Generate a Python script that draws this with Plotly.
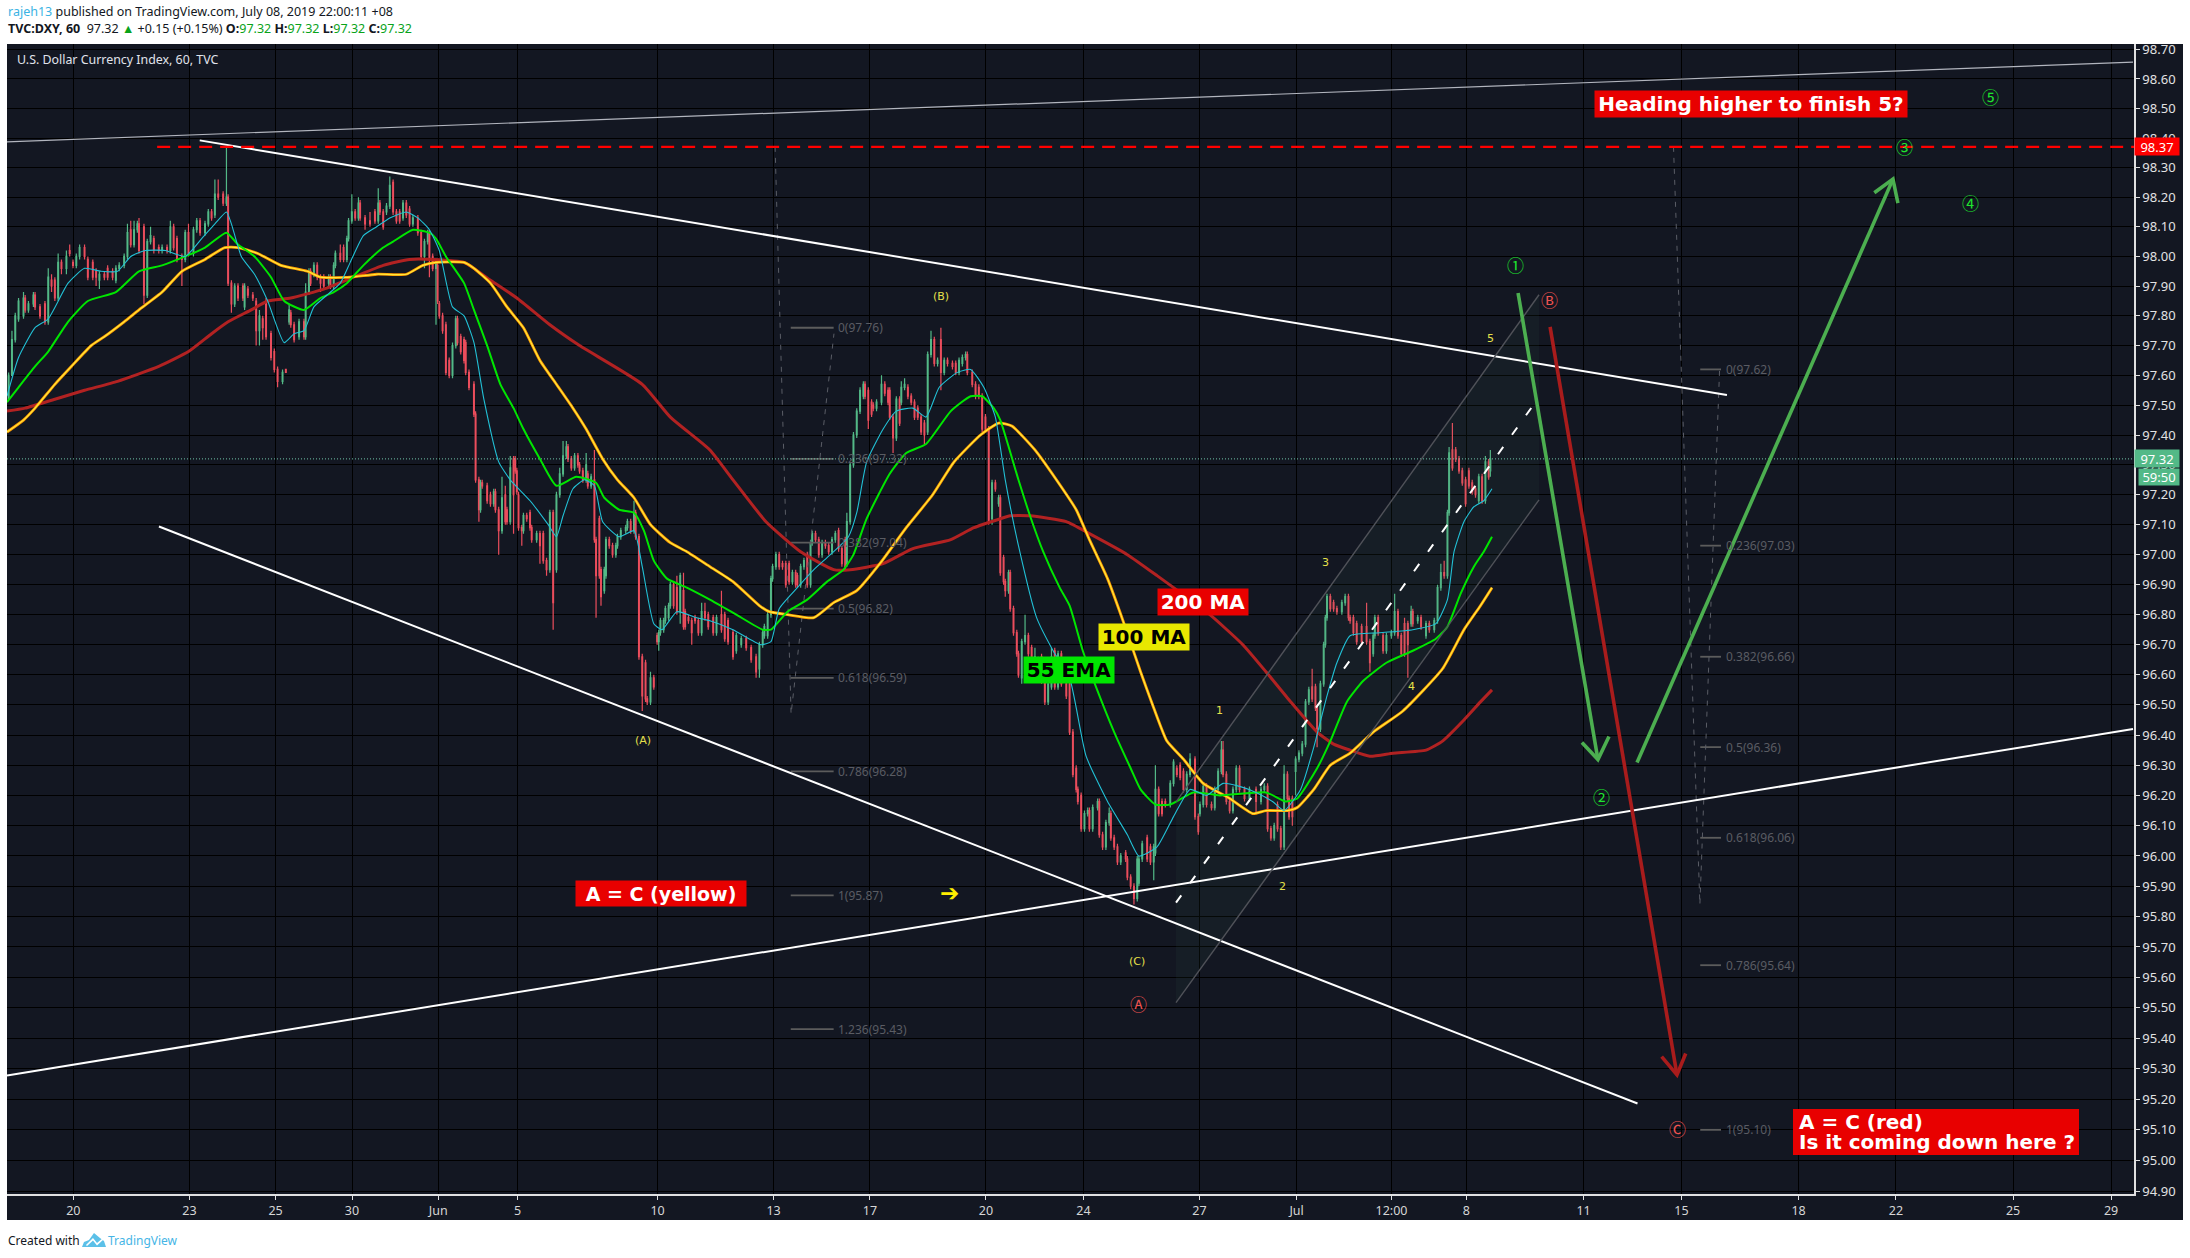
import math
import plotly.graph_objects as go

# ---- candles (bar index, open, high, low, close) ----
bars = [1,3,5,7,10,11,13,16,17,20,
23,25,27,29,31,33,36,38,40,42,
44,47,49,52,54,56,59,61,64,66,
68,71,73,75,77,79,80,83,85,87,
89,92,94,97,99,101,103,106,108,110,
113,115,117,120,122,124,126,128,131,133,
134,136,138,140,143,144,146,149,151,153,
155,157,160,162,164,167,169,
171,172,174,177,180,181,183,184,186,188,
190,192,195,196,198,199,202,204,206,207,
209,211,213,214,217,220,223,225,226,228,
230,232,234,236,238,240,242,244,246,249,
251,253,255,256,258,260,261,262,264,266,
268,270,272,273,275,277,278,280,283,
284,286,287,288,291,293,295,296,298,300,
302,303,305,307,308,309,310,312,313,315,
317,318,321,323,325,327,329,331,333,335,
337,339,340,342,344,346,347,349,351,352,
354,356,357,359,360,362,363,365,367,369,
370,372,375,376,378,380,381,383,385,387,
388,390,392,394,395,396,398,399,401,402,
404,406,408,410,411,413,415,417,419,421,
423,425,
428,430,433,435,437,440,442,445,448,451,
454,456,458,459,461,463,464,466,468,470,
472,474,476,478,479,481,483,485,487,488,
490,492,494,496,498,500,502,504,506,508,
509,511,513,515,517,519,520,522,524,525,
527,530,532,534,535,537,539,541,542,544,
546,548,550,552,554,556,558,560,562,564,
566,568,570,573,575,577,579,581,582,585,
587,589,591,593,595,
597,599,601,602,604,605,607,608,610,612,
613,615,617,619,621,623,625,627,629,631,
633,635,637,639,642,644,646,648,649,651,
653,655,656,658,661,662,664,666,668,669,
671,673,675,678,679,681,683,685,686,688,
691,693,695,696,698,700,702,705,707,709,
711,713,715,717,720,722,723,725,727,730,
732,734,736,737,739,741,743,745,747,750,
753,757,760,762,764,766,768,770,772,774,
776,777,779,781,783,785,787,789,791,793,
794,796,798,799,800,802,804,806,809,811,
813,814,816,818,821,824,826,828,829,831,
834,836,839,841,843,845,847,849,851,852,
855,857,860,862,865,867,869,871,873,874,
876,878,880,882,884,886,888,890,892,894,
896,898,899]

opens = [97.52,97.60,97.72,97.79,97.80,97.86,97.82,97.84,97.87,97.83,
97.84,97.78,97.92,97.92,97.86,97.98,97.96,98.02,97.98,97.97,
98.00,98.03,97.99,97.98,97.95,97.92,97.94,97.96,97.95,97.92,
97.96,97.97,98.00,98.09,98.04,98.09,98.11,98.10,97.87,98.05,
98.06,98.03,98.02,98.03,98.02,98.10,98.06,98.00,97.99,98.08,
98.01,98.09,98.12,98.08,98.11,98.15,98.14,98.21,98.21,98.18,
98.20,97.91,97.84,97.90,97.90,97.83,97.89,97.87,97.85,97.75,
97.79,97.85,97.74,97.68,97.62,97.58,97.62,
97.78,97.81,97.77,97.73,97.78,97.73,97.88,97.95,97.94,97.97,
97.93,97.93,97.91,97.93,97.90,97.97,98.01,98.03,97.99,98.06,
98.12,98.15,98.13,98.18,98.13,98.12,98.15,98.12,98.18,98.15,
98.15,98.17,98.25,98.15,98.15,98.13,98.18,98.16,98.11,98.13,
98.08,98.00,98.05,98.08,98.00,97.96,97.97,97.84,97.80,97.77,
97.65,97.60,97.70,97.79,97.73,97.72,97.71,97.61,97.57,
97.47,97.25,97.15,97.24,97.23,97.20,97.17,97.21,97.15,97.08,
97.20,97.15,97.11,97.32,97.32,97.28,97.20,97.09,97.08,97.13,
97.14,97.09,97.05,97.07,97.07,96.98,96.95,97.14,96.95,97.20,
97.27,97.33,97.36,97.32,97.29,97.33,97.30,97.28,97.25,97.27,
97.23,97.25,97.05,97.12,96.95,96.88,96.93,97.05,97.03,97.00,
97.03,97.06,97.08,97.09,97.11,97.08,97.14,97.06,96.66,96.64,
96.52,96.51,96.59,96.73,96.71,96.74,96.75,96.78,96.79,96.83,
96.90,96.89,96.81,96.88,96.81,96.79,96.78,96.79,96.78,96.74,
96.81,96.80,
96.79,96.74,96.80,96.80,96.78,96.74,96.68,96.70,96.72,96.69,
96.66,96.62,96.70,96.73,96.73,96.80,96.92,96.96,97.00,96.97,
96.97,96.97,96.91,96.94,96.93,96.90,96.96,97.00,96.90,97.04,
97.07,97.05,97.00,97.04,97.03,97.01,97.05,97.08,97.02,97.05,
96.97,97.11,97.30,97.40,97.48,97.53,97.57,97.55,97.51,97.50,
97.49,97.51,97.57,97.55,97.55,97.46,97.39,97.52,97.51,97.56,
97.56,97.53,97.51,97.49,97.46,97.44,97.41,97.67,97.72,97.64,
97.72,97.61,97.65,97.64,97.64,97.61,97.64,97.66,97.67,97.61,
97.57,97.56,97.53,97.46,97.42,
97.12,97.24,97.17,97.19,96.99,96.91,96.88,96.94,96.82,96.74,
96.67,96.59,96.71,96.73,96.69,96.64,96.65,96.66,96.58,96.51,
96.56,96.68,96.56,96.67,96.57,96.57,96.41,96.29,96.22,96.20,
96.09,96.14,96.15,96.09,96.16,96.18,96.07,96.03,96.11,96.14,
96.06,96.03,95.98,96.01,95.99,95.93,95.90,95.86,95.91,95.99,
96.06,96.03,95.98,96.01,96.22,96.18,96.18,96.17,96.24,96.29,
96.30,96.28,96.22,96.27,96.32,96.13,96.14,96.17,96.23,96.17,
96.16,96.22,96.28,96.35,96.27,96.18,96.15,96.22,96.29,96.22,
96.19,96.22,96.18,96.22,96.23,96.09,96.06,96.17,96.09,96.03,
96.27,96.19,96.19,96.28,96.32,96.34,96.37,96.51,96.56,96.56,
96.49,96.42,96.57,96.70,96.79,96.86,96.84,96.82,96.81,96.84,
96.86,96.79,96.79,96.77,96.76,96.76,96.71,96.67,96.73,96.79,
96.73,96.68,96.73,96.74,96.81,96.73,96.77,96.77,96.77,96.81,
96.78,96.79,96.73,96.77,96.75,96.78,96.89,96.94,96.93,97.14,
97.35,97.35,97.32,97.28,97.25,97.28,97.24,97.22,97.18,97.26,
97.18,97.31,97.28]

highs = [97.61,97.75,97.81,97.86,97.88,97.87,97.85,97.88,97.88,97.84,
97.85,97.96,97.94,97.93,98.01,97.99,98.02,98.04,97.99,98.01,
98.04,98.04,98.00,97.99,97.96,97.95,97.95,97.97,97.96,97.97,
97.98,98.01,98.11,98.12,98.12,98.12,98.13,98.11,98.06,98.10,
98.07,98.04,98.04,98.04,98.12,98.11,98.07,98.01,98.09,98.11,
98.10,98.13,98.13,98.12,98.16,98.16,98.26,98.26,98.22,98.37,
98.21,97.92,97.91,97.91,97.91,97.91,97.90,97.88,97.86,97.82,
97.80,97.86,97.75,97.69,97.63,97.62,97.62,
97.84,97.82,97.78,97.79,97.79,97.91,97.96,97.96,97.98,97.98,
97.94,97.94,97.94,97.94,97.98,98.02,98.04,98.04,98.07,98.13,
98.21,98.16,98.20,98.19,98.14,98.15,98.16,98.23,98.19,98.16,
98.18,98.27,98.26,98.16,98.16,98.19,98.19,98.17,98.14,98.14,
98.09,98.06,98.09,98.09,98.01,97.99,97.98,97.85,97.81,97.78,
97.66,97.71,97.80,97.80,97.74,97.73,97.72,97.62,97.58,
97.48,97.26,97.25,97.25,97.24,97.21,97.22,97.22,97.16,97.26,
97.23,97.16,97.33,97.33,97.33,97.29,97.21,97.10,97.14,97.14,
97.15,97.10,97.08,97.08,97.08,96.99,97.15,97.15,97.21,97.29,
97.38,97.38,97.37,97.33,97.34,97.34,97.31,97.29,97.34,97.28,
97.27,97.35,97.06,97.13,96.96,96.96,97.06,97.06,97.04,97.04,
97.07,97.09,97.10,97.12,97.12,97.18,97.15,97.07,96.67,96.65,
96.53,96.61,96.60,96.74,96.75,96.79,96.79,96.83,96.84,96.91,
96.91,96.93,96.94,96.94,96.82,96.80,96.79,96.80,96.79,96.84,
96.84,96.81,
96.80,96.80,96.88,96.81,96.79,96.75,96.74,96.73,96.73,96.70,
96.67,96.71,96.75,96.77,96.81,96.93,96.97,97.01,97.01,96.98,
96.98,96.98,96.95,96.95,96.94,96.97,96.99,97.01,97.05,97.08,
97.08,97.06,97.05,97.05,97.04,97.06,97.08,97.09,97.03,97.06,
97.14,97.31,97.41,97.49,97.56,97.58,97.58,97.56,97.52,97.51,
97.52,97.60,97.58,97.56,97.56,97.47,97.53,97.53,97.58,97.59,
97.57,97.54,97.52,97.50,97.47,97.45,97.68,97.75,97.73,97.66,
97.76,97.66,97.66,97.65,97.65,97.66,97.67,97.68,97.68,97.62,
97.58,97.57,97.54,97.47,97.43,
97.25,97.25,97.20,97.20,97.00,96.92,96.95,96.95,96.83,96.75,
96.68,96.72,96.80,96.74,96.70,96.69,96.66,96.67,96.59,96.58,
96.69,96.69,96.68,96.68,96.58,96.58,96.42,96.30,96.23,96.21,
96.15,96.16,96.16,96.17,96.19,96.19,96.08,96.12,96.16,96.15,
96.07,96.04,96.01,96.02,96.00,95.94,95.91,96.00,96.00,96.05,
96.07,96.04,96.04,96.30,96.23,96.19,96.19,96.25,96.32,96.30,
96.31,96.29,96.28,96.34,96.33,96.14,96.18,96.24,96.24,96.18,
96.23,96.29,96.38,96.38,96.28,96.19,96.23,96.30,96.30,96.23,
96.23,96.23,96.23,96.24,96.24,96.10,96.11,96.18,96.10,96.30,
96.28,96.20,96.20,96.33,96.35,96.38,96.52,96.56,96.62,96.57,
96.50,96.58,96.71,96.80,96.87,96.87,96.85,96.83,96.85,96.87,
96.87,96.80,96.80,96.78,96.77,96.84,96.72,96.74,96.80,96.80,
96.74,96.74,96.75,96.87,96.82,96.74,96.79,96.78,96.83,96.82,
96.80,96.80,96.78,96.78,96.79,96.90,96.97,96.98,97.15,97.36,
97.44,97.36,97.33,97.29,97.26,97.29,97.25,97.23,97.27,97.27,
97.33,97.32,97.35]

lows = [97.52,97.60,97.71,97.78,97.79,97.81,97.81,97.83,97.82,97.79,
97.77,97.77,97.88,97.85,97.85,97.94,97.94,98.00,97.96,97.96,
97.99,97.99,97.92,97.92,97.90,97.89,97.92,97.92,97.92,97.91,
97.95,97.96,97.99,98.03,98.03,98.08,98.01,97.84,97.86,98.04,
98.01,98.01,98.01,98.01,98.01,98.02,97.98,97.90,97.98,98.00,
98.00,98.08,98.07,98.07,98.10,98.12,98.13,98.19,98.17,98.17,
97.90,97.81,97.83,97.85,97.85,97.82,97.86,97.85,97.70,97.70,
97.72,97.72,97.65,97.61,97.56,97.57,97.61,
97.77,97.76,97.71,97.72,97.72,97.72,97.87,97.90,97.93,97.92,
97.88,97.89,97.90,97.89,97.89,97.96,97.98,97.98,97.98,98.05,
98.11,98.12,98.12,98.12,98.09,98.10,98.11,98.11,98.14,98.09,
98.14,98.16,98.14,98.11,98.11,98.12,98.13,98.10,98.10,98.07,
97.99,97.96,98.04,97.93,97.95,97.77,97.84,97.79,97.74,97.60,
97.59,97.59,97.69,97.70,97.67,97.64,97.60,97.55,97.46,
97.24,97.11,97.14,97.22,97.17,97.16,97.16,97.14,97.00,97.07,
97.10,97.10,97.10,97.07,97.27,97.20,97.08,97.03,97.07,97.11,
97.08,97.04,97.04,96.97,96.97,96.93,96.94,96.75,96.94,97.19,
97.26,97.32,97.31,97.28,97.28,97.29,97.27,97.24,97.24,97.22,
97.22,97.04,96.79,96.92,96.83,96.87,96.92,97.02,96.99,96.99,
97.02,97.05,97.07,97.08,97.07,97.07,97.05,96.65,96.48,96.51,
96.50,96.50,96.55,96.70,96.68,96.73,96.74,96.77,96.78,96.82,
96.82,96.80,96.77,96.75,96.75,96.77,96.70,96.77,96.73,96.73,
96.78,96.75,
96.73,96.73,96.74,96.71,96.70,96.65,96.67,96.69,96.68,96.64,
96.59,96.59,96.69,96.72,96.72,96.79,96.91,96.95,96.95,96.95,
96.89,96.90,96.90,96.89,96.89,96.89,96.95,96.89,96.89,97.03,
97.04,96.99,96.99,97.02,97.00,97.00,97.04,97.01,96.96,96.95,
96.96,97.10,97.29,97.39,97.47,97.52,97.52,97.42,97.46,97.48,
97.48,97.50,97.53,97.50,97.45,97.34,97.38,97.43,97.50,97.55,
97.52,97.50,97.45,97.45,97.40,97.37,97.40,97.66,97.63,97.63,
97.55,97.60,97.63,97.62,97.60,97.60,97.63,97.65,97.60,97.56,
97.52,97.52,97.41,97.41,97.10,
97.10,97.21,97.16,96.93,96.90,96.86,96.87,96.81,96.73,96.66,
96.59,96.57,96.70,96.66,96.60,96.63,96.62,96.57,96.50,96.50,
96.55,96.55,96.55,96.56,96.52,96.40,96.26,96.21,96.17,96.08,
96.08,96.13,96.08,96.08,96.15,96.06,96.02,96.02,96.10,96.05,
96.02,95.97,95.97,95.98,95.92,95.89,95.84,95.85,95.90,95.98,
95.98,95.97,95.92,96.00,96.13,96.13,96.16,96.16,96.23,96.26,
96.25,96.21,96.21,96.26,96.12,96.07,96.13,96.16,96.16,96.15,
96.15,96.21,96.27,96.26,96.17,96.14,96.14,96.21,96.21,96.18,
96.18,96.14,96.17,96.21,96.08,96.05,96.05,96.08,96.02,96.02,
96.18,96.12,96.10,96.20,96.31,96.33,96.36,96.50,96.51,96.48,
96.36,96.41,96.56,96.69,96.78,96.81,96.81,96.80,96.80,96.83,
96.78,96.77,96.73,96.70,96.70,96.70,96.61,96.66,96.72,96.73,
96.67,96.67,96.72,96.73,96.72,96.66,96.66,96.59,96.76,96.76,
96.77,96.75,96.72,96.74,96.74,96.77,96.88,96.92,96.92,97.13,
97.28,97.31,97.27,97.23,97.16,97.22,97.20,97.19,97.17,97.17,
97.17,97.25,97.26]

closes = [97.60,97.72,97.80,97.85,97.86,97.82,97.84,97.87,97.83,97.80,
97.78,97.93,97.90,97.86,97.98,97.96,98.00,98.01,97.97,98.00,
98.03,98.00,97.93,97.93,97.93,97.94,97.93,97.93,97.93,97.96,
97.97,98.00,98.08,98.04,98.09,98.11,98.02,97.87,98.05,98.07,
98.02,98.02,98.03,98.02,98.10,98.03,97.99,97.99,98.08,98.01,
98.09,98.12,98.08,98.11,98.15,98.13,98.21,98.20,98.18,98.20,
97.91,97.84,97.90,97.86,97.86,97.90,97.87,97.86,97.75,97.80,
97.76,97.73,97.66,97.62,97.58,97.61,97.61,
97.82,97.77,97.72,97.78,97.73,97.88,97.95,97.91,97.97,97.93,
97.91,97.90,97.93,97.90,97.97,98.01,97.99,97.99,98.06,98.12,
98.15,98.13,98.18,98.13,98.11,98.11,98.12,98.18,98.15,98.10,
98.17,98.24,98.15,98.12,98.12,98.18,98.14,98.11,98.13,98.08,
98.00,98.05,98.08,97.99,97.96,97.98,97.85,97.80,97.75,97.61,
97.60,97.70,97.79,97.71,97.68,97.65,97.61,97.56,97.47,
97.25,97.15,97.24,97.23,97.18,97.17,97.21,97.15,97.08,97.19,
97.11,97.11,97.29,97.20,97.28,97.21,97.09,97.08,97.13,97.12,
97.09,97.05,97.07,97.03,96.98,96.95,97.14,96.84,97.20,97.27,
97.33,97.36,97.32,97.29,97.33,97.30,97.28,97.25,97.30,97.23,
97.26,97.05,96.93,96.93,96.86,96.95,97.05,97.03,97.00,97.03,
97.06,97.08,97.09,97.11,97.08,97.14,97.06,96.66,96.53,96.52,
96.51,96.59,96.56,96.71,96.74,96.78,96.78,96.82,96.83,96.90,
96.83,96.81,96.93,96.76,96.76,96.78,96.74,96.78,96.74,96.81,
96.79,96.76,
96.74,96.79,96.75,96.72,96.71,96.66,96.73,96.72,96.69,96.65,
96.61,96.70,96.74,96.76,96.80,96.92,96.96,97.00,96.96,96.96,
96.90,96.91,96.94,96.90,96.90,96.96,96.98,96.90,97.04,97.07,
97.05,97.00,97.04,97.03,97.01,97.05,97.07,97.02,96.97,96.96,
97.11,97.30,97.40,97.48,97.55,97.57,97.53,97.45,97.47,97.49,
97.51,97.57,97.54,97.51,97.46,97.39,97.52,97.44,97.56,97.57,
97.53,97.51,97.46,97.46,97.41,97.40,97.67,97.72,97.64,97.65,
97.61,97.65,97.64,97.63,97.61,97.65,97.66,97.67,97.61,97.57,
97.53,97.53,97.42,97.42,97.11,
97.24,97.22,97.19,96.94,96.91,96.88,96.94,96.82,96.74,96.67,
96.60,96.71,96.73,96.67,96.61,96.66,96.63,96.58,96.51,96.57,
96.66,96.56,96.67,96.57,96.53,96.41,96.27,96.22,96.18,96.09,
96.14,96.15,96.09,96.16,96.18,96.07,96.03,96.11,96.14,96.06,
96.03,95.98,96.00,95.99,95.93,95.90,95.86,95.99,95.99,96.04,
95.99,95.98,96.03,96.22,96.14,96.14,96.17,96.24,96.31,96.27,
96.26,96.22,96.27,96.32,96.13,96.08,96.17,96.23,96.17,96.16,
96.22,96.28,96.35,96.27,96.18,96.15,96.22,96.29,96.22,96.19,
96.22,96.18,96.22,96.23,96.09,96.06,96.10,96.09,96.03,96.27,
96.19,96.13,96.13,96.32,96.34,96.37,96.51,96.55,96.52,96.49,
96.42,96.57,96.70,96.79,96.86,96.82,96.82,96.81,96.84,96.86,
96.79,96.78,96.74,96.71,96.71,96.71,96.64,96.73,96.79,96.74,
96.68,96.73,96.74,96.81,96.73,96.67,96.67,96.70,96.81,96.77,
96.79,96.76,96.77,96.75,96.78,96.89,96.94,96.93,97.14,97.34,
97.29,97.32,97.28,97.24,97.17,97.23,97.21,97.20,97.26,97.18,
97.31,97.26,97.32]

assert len(bars) == len(opens) == len(highs) == len(lows) == len(closes), (len(bars), len(opens), len(highs), len(lows), len(closes))

# ---- moving averages ----
ma200_x = [0,11,29,47,67,92,110,124,134,148,158,172,192,210,228,244,258,277,293,309,329,347,385,402,426,440,460,481,501,511,531,549,572,586,602,608,620,642,656,679,697,729,749,763,778,794,804,814,826,840,860,870,883,893,900]
ma200_y = [97.48,97.49,97.52,97.55,97.58,97.63,97.68,97.74,97.78,97.82,97.85,97.86,97.89,97.93,97.97,97.99,97.99,97.98,97.92,97.86,97.77,97.70,97.57,97.46,97.35,97.25,97.11,97.01,96.95,96.95,96.97,97.02,97.05,97.09,97.12,97.13,97.13,97.11,97.07,97.00,96.93,96.80,96.70,96.61,96.51,96.41,96.37,96.35,96.33,96.34,96.35,96.38,96.45,96.51,96.55]

ma100_x = [0,10,17,29,39,51,59,71,80,94,106,120,132,140,152,166,182,190,208,224,242,252,260,277,283,293,303,313,323,333,343,351,361,370,380,390,402,412,426,440,456,462,473,489,501,515,529,545,561,574,590,601,609,623,636,648,656,667,677,687,695,703,713,725,741,755,763,776,782,792,802,814,828,846,870,883,893,900]
ma100_y = [97.41,97.45,97.49,97.57,97.63,97.70,97.73,97.78,97.82,97.88,97.95,97.99,98.03,98.03,98.01,97.97,97.95,97.93,97.93,97.94,97.94,97.97,97.98,97.98,97.96,97.91,97.83,97.76,97.65,97.57,97.49,97.42,97.32,97.25,97.19,97.10,97.04,97.01,96.96,96.91,96.83,96.81,96.80,96.79,96.84,96.88,96.97,97.09,97.20,97.31,97.40,97.44,97.43,97.35,97.25,97.15,97.05,96.92,96.77,96.61,96.49,96.38,96.32,96.24,96.19,96.14,96.15,96.15,96.16,96.22,96.30,96.34,96.41,96.48,96.62,96.75,96.83,96.89]

ema55_x = [0,7,17,25,37,49,66,80,94,108,120,133,140,150,160,168,180,190,198,206,216,228,234,246,256,260,266,277,283,291,299,307,313,323,333,345,357,362,371,380,386,392,400,412,426,442,458,463,473,485,497,507,513,521,535,545,557,572,584,591,598,602,613,620,628,638,644,652,660,671,681,687,696,705,719,735,763,775,782,794,802,812,822,836,852,866,873,881,889,895,900]
ema55_y = [97.51,97.56,97.63,97.68,97.78,97.85,97.88,97.95,97.97,98.00,98.03,98.08,98.04,98.00,97.93,97.85,97.82,97.86,97.88,97.91,97.97,98.03,98.05,98.09,98.08,98.06,98.00,97.91,97.82,97.70,97.57,97.49,97.42,97.32,97.23,97.26,97.24,97.19,97.15,97.14,97.08,96.98,96.92,96.89,96.85,96.80,96.75,96.75,96.81,96.85,96.91,96.95,97.00,97.12,97.27,97.34,97.37,97.48,97.53,97.53,97.49,97.45,97.25,97.13,97.01,96.89,96.83,96.68,96.56,96.41,96.29,96.22,96.17,96.17,96.21,96.20,96.21,96.18,96.19,96.29,96.38,96.51,96.58,96.64,96.68,96.72,96.76,96.87,96.96,97.01,97.06]

ema_x = [0,7,17,25,37,47,57,67,75,84,96,108,118,126,133,136,142,150,158,168,174,180,186,194,202,208,216,224,232,242,249,256,262,270,277,283,289,298,305,317,328,333,337,343,350,356,361,371,380,385,392,397,406,418,426,440,457,463,468,479,489,497,510,515,521,531,539,549,557,565,576,584,592,599,605,613,624,634,644,654,667,679,686,697,707,717,727,737,747,757,767,774,784,792,800,806,814,832,852,866,873,877,883,889,895,900]
ema_y = [97.53,97.66,97.76,97.79,97.91,97.96,97.95,97.95,98.00,98.02,98.02,98.00,98.06,98.11,98.15,98.11,98.00,97.94,97.85,97.71,97.74,97.75,97.83,97.87,97.91,97.98,98.07,98.10,98.13,98.15,98.13,98.09,98.02,97.83,97.80,97.71,97.52,97.31,97.25,97.18,97.10,97.06,97.13,97.22,97.25,97.23,97.11,97.06,97.08,96.96,96.77,96.75,96.81,96.79,96.78,96.75,96.70,96.71,96.82,96.89,96.95,96.99,97.06,97.14,97.31,97.42,97.48,97.49,97.46,97.56,97.61,97.62,97.56,97.46,97.25,97.03,96.79,96.68,96.59,96.33,96.18,96.07,96.00,96.03,96.13,96.22,96.20,96.24,96.23,96.21,96.18,96.15,96.22,96.36,96.53,96.64,96.73,96.74,96.75,96.77,96.85,97.01,97.11,97.16,97.18,97.22]

# ---- axes ----
y_ticks = [94.9,95.0,95.1,95.2,95.3,95.4,95.5,95.6,95.7,95.8,95.9,96.0,96.1,96.2,96.3,96.4,96.5,96.6,96.7,96.8,96.9,97.0,97.1,97.2,97.3,97.4,97.5,97.6,97.7,97.8,97.9,98.0,98.1,98.2,98.3,98.4,98.5,98.6,98.7]
x_tick_bars = [40.2,110.6,162.8,209.1,261.4,309.5,394.3,464.6,523,593.3,652.4,722.7,781.6,839.1,884.5,955.5,1014.8,1085.8,1144.8,1215.8,1275.2]
x_tick_text = ["20","23","25","30","Jun","5","10","13","17","20","24","27","Jul","12:00","8","11","15","18","22","25","29"]

# ---- fib tools ----
fib1_text = ["0(97.76)","0.236(97.32)","0.382(97.04)","0.5(96.82)","0.618(96.59)","0.786(96.28)","1(95.87)","1.236(95.43)"]
fib1_vals = [97.76,97.32,97.04,96.82,96.59,96.28,95.87,95.43]
fib2_text = ["0(97.62)","0.236(97.03)","0.382(96.66)","0.5(96.36)","0.618(96.06)","0.786(95.64)","1(95.10)"]
fib2_vals = [97.62,97.03,96.66,96.36,96.06,95.64,95.10]

# ---- geometry of the frame ----
L, R, T, B = 7, 2134, 44, 1194
def px(x): return (x - L) / (R - L)
def py(y): return (B - y) / (B - T)

BG = "#131722"
UP = "#53b987"
DN = "#eb4d5c"
SANS = "Noto Sans, Open Sans, sans-serif"
BOLD = "DejaVu Sans, sans-serif"
BARX = (R - L) / 1.65

fig = go.Figure()

def line(xs, ys, color, width=1.0, dash=None, shape="linear"):
    fig.add_trace(go.Scatter(x=xs, y=ys, mode="lines", hoverinfo="skip", showlegend=False,
                             line=dict(color=color, width=width, dash=dash, shape=shape, smoothing=0.5)))

# channel fill
fig.add_trace(go.Scatter(x=[708.5,928.5,928.5,708.5,708.5], y=[96.179,97.871,97.183,95.517,96.179],
                         mode="none", fill="toself", fillcolor="rgba(70,130,100,0.07)",
                         hoverinfo="skip", showlegend=False))

# fib lines and dashed guides
def fib(vals, x0, x1, color="#5c5c5c"):
    xs, ys = [], []
    for v in vals:
        xs += [x0, x1, None]; ys += [v, v, None]
    line(xs, ys, color, 1.8)
fib(fib1_vals, 475.0, 501.0)
fib(fib2_vals, 1026.2, 1038.8)
line([465.5,475.2,501.2], [98.37,96.47,97.74], "#5a5d66", 1, "5px,6px")
line([1010,1026,1038], [98.37,95.84,97.63], "#5a5d66", 1, "5px,6px")

# long trend lines
line([0,1288.5], [98.387,98.657], "#b2b5be", 1.2)
line([116.8,1042.4], [98.392,97.534], "#ffffff", 2)
line([92.1,988.2], [97.094,95.186], "#ffffff", 2)
line([0,1288.5], [95.278,96.42], "#ffffff", 2)

# price level lines
line([0,BARX], [97.32,97.32], "#6fc4a8", 1, "1px,2px")

# candles
fig.add_trace(go.Candlestick(x=bars, open=opens, high=highs, low=lows, close=closes,
                             whiskerwidth=0, hoverinfo="skip", showlegend=False,
                             increasing=dict(line=dict(color=UP, width=1.2), fillcolor=UP),
                             decreasing=dict(line=dict(color=DN, width=1.2), fillcolor=DN)))

# moving averages
line(ma200_x, ma200_y, "#b22222", 3.0, shape="spline")
line(ma100_x, ma100_y, "#ff9800", 2.8, shape="spline")
line(ma100_x, ma100_y, "#ffeb3b", 1.2, shape="spline")
line(ema55_x, ema55_y, "#00e600", 2.0, shape="spline")
line(ema_x, ema_y, "#22c1d6", 1.1, shape="spline")

# channel
line([708.5,928.5], [96.179,97.871], "#505259", 1.4)
line([708.5,928.5], [95.517,97.183], "#505259", 1.4)
line([708.5,928.5], [95.846,97.527], "#ffffff", 2, "9px,15px")

line([91,BARX], [98.37,98.37], "#ff0000", 2.4, "13px,8px")

# arrows
GREEN = "#4caf50"; DARKRED = "#a91c1c"
line([915.8,964.2], [97.877,96.319], GREEN, 3.6)
line([954.5,964.2,970.9], [96.375,96.319,96.395], GREEN, 3.6)
line([987.9,1143], [96.309,98.261], GREEN, 3.6)
line([1131.7,1143,1146], [98.215,98.261,98.18], GREEN, 3.6)
line([935.2,1012.1], [97.763,95.28], DARKRED, 3.6)
line([1002.8,1012.1,1017.4], [95.34,95.28,95.35], DARKRED, 3.6)

ann = []
def text(x, y, s, color="#ffffff", size=12, family=SANS, anchor="center"):
    ann.append(dict(xref="paper", yref="paper", x=px(x), y=py(y), text=s, showarrow=False,
                    xanchor=anchor, yanchor="middle", align="left" if anchor == "left" else "center",
                    font=dict(color=color, size=size, family=family)))
def box(x0, x1, y0, y1, s, bg, color, size=20, align="center"):
    ann.append(dict(xref="paper", yref="paper", x=px(x0), y=py(y0), text="<b>%s</b>" % s, showarrow=False,
                    xanchor="left", yanchor="top", align=align, valign="middle",
                    width=x1 - x0, height=y1 - y0, bgcolor=bg, borderpad=0,
                    font=dict(color=color, size=size, family=BOLD)))

# fib labels
FIBC = "#5a5c63"
for v, s in zip(fib1_vals, fib1_text):
    ann.append(dict(xref="paper", yref="y", x=px(836), y=math.log10(v), text=s, showarrow=False,
                    xanchor="left", yanchor="middle", font=dict(color=FIBC, size=12, family=SANS)))
for v, s in zip(fib2_vals, fib2_text):
    ann.append(dict(xref="paper", yref="y", x=px(1724), y=math.log10(v), text=s, showarrow=False,
                    xanchor="left", yanchor="middle", font=dict(color=FIBC, size=12, family=SANS)))

# wave labels
YW = "#e6e04a"
for x, y, s in [(642.5,740,"(A)"),(941.4,296,"(B)"),(1137,961,"(C)"),(1219,710,"1"),(1282,886,"2"),
                (1325,562.7,"3"),(1411,686.7,"4"),(1490,338,"5")]:
    text(x, y, s, YW, 11, "DejaVu Sans, sans-serif")
CJK = "Noto Sans CJK SC, sans-serif"
for x, y, s in [(1515,264,"①"),(1602,796,"②"),(1904.6,146.7,"③"),(1970.8,202.7,"④"),(1990.7,96.3,"⑤")]:
    text(x, y, s, "#1ee62e", 17, CJK)
for x, y, s in [(1138,1003,"Ⓐ"),(1549,299,"Ⓑ"),(1677,1128,"Ⓒ")]:
    text(x, y, s, "#ef5350", 17, CJK)

# coloured labels
RED = "#e80000"
box(1594, 1906, 90, 116, "Heading higher to finish 5?", RED, "#ffffff", 20)
box(575, 745, 880, 905, "A = C (yellow)", RED, "#ffffff", 19)
box(1157, 1247, 588, 614, "200 MA", RED, "#ffffff", 20)
box(1098, 1188, 623, 649, "100 MA", "#e8e800", "#000000", 20)
box(1023, 1113, 656, 682, "55 EMA", "#00e600", "#000000", 20)
text(1797, 1122, "<b>A = C (red)</b>", "#ffffff", 20, BOLD, "left")
text(1797, 1142, "<b>Is it coming down here ?</b>", "#ffffff", 20, BOLD, "left")
text(949, 893, "<b>➔</b>", "#ffee00", 23, "DejaVu Sans, sans-serif")

# price tags
for v, s, bg in [(98.37, "98.37", "#ff0000"), (97.32, "97.32", UP)]:
    ann.append(dict(xref="paper", yref="y", x=1.0, y=math.log10(v), text=s, showarrow=False,
                    xanchor="left", yanchor="middle", width=44, height=17, bgcolor=bg, borderpad=0,
                    font=dict(color="#ffffff", size=13, family=SANS)))
ann.append(dict(xref="paper", yref="paper", x=px(2138), y=py(468.5), text="59:50", showarrow=False,
                xanchor="left", yanchor="top", width=40, height=16, bgcolor=UP, borderpad=0,
                font=dict(color="#ffffff", size=13, family=SANS)))

# header, title, footer
text(6, 11, '<span style="color:#3bb3e4">rajeh13</span> published on TradingView.com, July 08, 2019 22:00:11 +08',
     "#131722", 12.5, anchor="left")
G = "#09a31a"
text(6, 28, '<b>TVC:DXY, 60</b>  97.32 <span style="color:%s">▲</span> +0.15 (+0.15%%) <b>O:</b><span style="color:%s">97.32</span> <b>H:</b><span style="color:%s">97.32</span> <b>L:</b><span style="color:%s">97.32</span> <b>C:</b><span style="color:%s">97.32</span>' % (G, G, G, G, G),
     "#131722", 12.5, anchor="left")
text(15, 60, "U.S. Dollar Currency Index, 60, TVC", "#e0e3eb", 12.4, anchor="left")
text(6, 1240, "Created with", "#131722", 12, anchor="left")
text(106, 1240, "TradingView", "#45b5e6", 12, anchor="left")

shapes = [dict(type="rect", xref="paper", yref="paper", x0=px(7), x1=px(2183), y0=py(44), y1=py(1220),
               fillcolor=BG, line=dict(width=0), layer="below"),
          dict(type="rect", xref="paper", yref="paper", x0=px(1793), x1=px(2079), y0=py(1109), y1=py(1155),
               fillcolor=RED, line=dict(width=0), layer="above")]
def path(points):
    return "M" + " L".join("%.5f,%.5f" % (px(a), py(b)) for a, b in points) + " Z"
shapes.append(dict(type="path", xref="paper", yref="paper",
                   path=path([(82,1247),(84,1242),(89,1240),(94,1233),(100,1238),(104,1241),(106,1247)]),
                   fillcolor="#5bc0e8", line=dict(width=0)))
shapes.append(dict(type="path", xref="paper", yref="paper",
                   path=path([(86,1245),(93,1238),(97,1243),(103,1238),(103.5,1239.5),(97,1245.5),(93,1240.5),(87,1246)]),
                   fillcolor="#ffffff", line=dict(width=0)))

fig.update_layout(
    width=2190, height=1258, autosize=False,
    margin=dict(l=L, r=2190 - R, t=T, b=1258 - B, pad=0),
    paper_bgcolor="#ffffff", plot_bgcolor=BG, showlegend=False,
    annotations=ann, shapes=shapes,
    xaxis=dict(range=[0, BARX], rangeslider=dict(visible=False), tickmode="array",
               tickvals=x_tick_bars, ticktext=x_tick_text, showgrid=True, gridcolor="#000000", gridwidth=1.2,
               zeroline=False, showline=True, linecolor="#e0e0e0", linewidth=1.5,
               ticks="outside", ticklen=4, tickcolor="#e0e0e0",
               tickfont=dict(color="#d6d6d6", size=12.5, family=SANS)),
    yaxis=dict(type="log", side="right", range=[1.994317 + 0.0000822, 1.977222][::-1],
               tickmode="array", tickvals=y_ticks, ticktext=["%.2f" % v for v in y_ticks],
               showgrid=True, gridcolor="#000000", gridwidth=1.2, zeroline=False,
               showline=True, linecolor="#e0e0e0", linewidth=1.5,
               ticks="outside", ticklen=4, tickcolor="#e0e0e0",
               tickfont=dict(color="#e2e2e2", size=13, family=SANS)),
)

fig.write_html("out.html", config=dict(displayModeBar=False),
               post_script="document.body.style.margin='0';")
